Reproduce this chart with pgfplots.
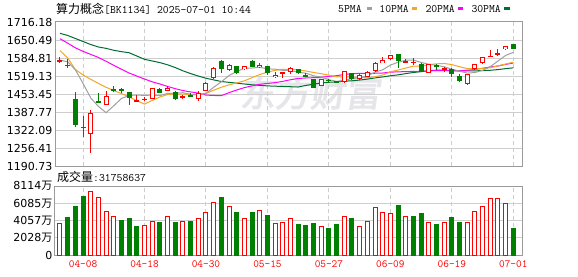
\documentclass[border=0pt]{standalone}
\usepackage{fontspec}
\setmainfont{DejaVu Sans}
\newfontfamily\cjk{Noto Sans CJK SC}
\newfontfamily\wmfont[FakeBold=3,FakeSlant=0.15]{Noto Sans CJK SC}
\usepackage{pgfplots}
\usepackage{pgfplotstable}
\pgfplotsset{compat=1.18}

\definecolor{upred}{RGB}{255,0,0}
\definecolor{dngreen}{RGB}{0,128,0}
\definecolor{mafive}{RGB}{160,160,160}
\definecolor{maten}{RGB}{245,166,35}
\definecolor{matwenty}{RGB}{255,0,255}
\definecolor{mathirty}{RGB}{0,110,50}
\definecolor{gridc}{RGB}{206,206,206}
\definecolor{framec}{RGB}{155,155,155}
\definecolor{wmgray}{RGB}{230,230,234}

\pgfplotstableread{
i o h l c
1 1573 1590 1568 1577
2 1556 1580 1547 1560
4 1330 1373 1298 1334
5 1306 1395 1240 1383
7 1412 1463 1412 1445
11 1426 1450 1424 1432
12 1433 1441 1429 1437
13 1436 1474 1434 1474
15 1466 1484 1465 1477
17 1442 1449 1437 1446
19 1436 1464 1429 1457
20 1465 1497 1463 1493
21 1512 1553 1510 1549
23 1540 1563 1538 1560
25 1544 1557 1540 1555
27 1551 1565 1550 1560
29 1514 1535 1512 1524
30 1528 1535 1511 1532
31 1533 1551 1525 1548
35 1481 1508 1481 1508
38 1496 1539 1495 1536
40 1508 1525 1505 1522
41 1516 1536 1514 1534
42 1538 1570 1535 1568
43 1566 1587 1565 1577
44 1582 1595 1577 1594
46 1569 1580 1565 1573
47 1567 1584 1560 1570
49 1531 1562 1529 1562
51 1544 1551 1535 1547
54 1489 1526 1488 1526
55 1543 1563 1541 1562
56 1566 1590 1564 1587
57 1589 1614 1588 1592
58 1598 1616 1593 1604
59 1616 1628 1615 1628
}\redc

\pgfplotstableread{
i o h l c
3 1435 1462 1332 1341
6 1426 1458 1423 1423
8 1470 1482 1462 1467
9 1472 1475 1458 1467
10 1461 1461 1414 1438
14 1472 1477 1456 1458
16 1461 1463 1431 1436
18 1450 1456 1443 1445
22 1575 1578 1531 1546
24 1556 1556 1525 1529
26 1575 1578 1551 1551
28 1556 1556 1523 1531
32 1544 1544 1525 1529
33 1522 1531 1514 1514
34 1509 1509 1477 1477
36 1506 1508 1494 1501
37 1500 1502 1494 1497
39 1529 1531 1504 1507
45 1599 1599 1550 1573
48 1564 1567 1533 1533
50 1558 1562 1541 1552
52 1545 1549 1517 1525
53 1519 1525 1496 1501
60 1636 1636 1619 1619
}\greenc

\pgfplotstableread{
i ma5 ma10 ma20 ma30
1 1577 1612 1655 1675
2 1571 1585 1639 1667
3 1542 1543 1622 1656
4 1492 1523 1609 1645
5 1439 1507 1598 1634
6 1408.2 1492 1587 1625
7 1385.2 1478 1573 1620
8 1410.4 1466 1558 1613
9 1437 1455 1544 1608
10 1448 1443.5 1530 1604
11 1449.8 1429 1519 1592
12 1448.2 1416.7 1508 1580
13 1449.6 1430 1498 1574
14 1447.8 1442.4 1490 1568
15 1455.6 1451.8 1481 1560
16 1456.4 1453.1 1473 1550
17 1458.2 1453.2 1466 1538
18 1452.4 1451 1461 1528
19 1452.2 1450 1457 1519
20 1455.4 1455.5 1449.5 1511
21 1478 1467.2 1448.1 1505
22 1498 1478.1 1447.4 1499
23 1521 1486.7 1458.4 1496
24 1535.4 1493.8 1468.1 1493
25 1547.8 1501.6 1476.7 1490
26 1548.2 1513.1 1483.1 1487
27 1551 1524.5 1488.9 1485
28 1545.2 1533.1 1492.1 1483
29 1544.2 1539.8 1494.9 1482
30 1539.6 1543.7 1499.6 1480.9
31 1539 1543.6 1505.4 1480
32 1532.8 1541.9 1510 1478.9
33 1529.4 1537.3 1512 1484.7
34 1520 1532.1 1513 1489.4
35 1515.2 1527.4 1514.5 1493.6
36 1505.8 1522.4 1517.8 1496.2
37 1499.4 1516.1 1520.3 1497.9
38 1503.8 1516.6 1524.9 1500.2
39 1509.8 1514.9 1527.4 1501.6
40 1512.6 1513.9 1528.8 1504.4
41 1519.2 1512.5 1528.1 1507.8
42 1533.4 1516.4 1529.2 1512.1
43 1541.6 1522.7 1530 1515.6
44 1559 1534.4 1533.3 1520.1
45 1569.2 1540.9 1534.2 1523.3
46 1577 1548.1 1535.3 1527.9
47 1577.4 1555.4 1535.8 1532
48 1568.6 1555.1 1535.9 1534.9
49 1562.2 1560.6 1537.8 1538.4
50 1558 1563.6 1538.8 1540.4
51 1552.8 1564.9 1538.7 1540.3
52 1543.8 1560.6 1538.5 1539.6
53 1537 1553 1537.9 1537.7
54 1529.8 1546.2 1540.3 1537.6
55 1531.8 1545.1 1543 1537.8
56 1539.8 1546.5 1547.3 1539
57 1553.2 1549.2 1552 1540
58 1573.8 1556.3 1555.5 1542.5
59 1594.2 1562.8 1561.5 1546
60 1605.6 1569.5 1566.4 1548.9
}\matab

\pgfplotstableread{
i v
1 3705
5 7488
6 6747
7 5148
8 4524
12 3510
13 3939
15 4524
17 3939
19 4290
20 4992
21 6162
23 5694
25 4290
27 5226
29 3705
30 3861
31 4290
35 3393
38 4524
40 3393
41 3939
42 5577
43 4992
44 4875
46 4524
49 3861
51 3861
54 3861
55 5109
56 5733
57 6630
58 6630
59 6045
}\volred

\pgfplotstableread{
i v
2 4446
3 5733
4 6903
9 4095
10 4329
11 3393
14 3861
16 3861
18 3978
22 6786
24 5031
26 5031
28 4680
32 3627
33 3510
34 3744
36 3159
37 3627
39 4329
45 5850
47 4563
48 4914
50 3627
52 4446
53 3783
60 3159
}\volgreen

\pgfplotsset{
  panel/.style={
    scale only axis, anchor=south west, width=467pt,
    xmin=0.35, xmax=61.13,
    axis line style={framec, line width=1pt},
    major tick length=0pt,
    xtick={4,12,20,28,36,44,52,60},
    xmajorgrids, ymajorgrids,
    x grid style={gridc, line width=1pt, dash pattern=on 4pt off 3pt},
    y grid style={gridc, line width=1pt},
    yticklabel style={font=\fontsize{11}{11}\selectfont, inner sep=0pt, xshift=-2.5pt},
    scaled y ticks=false,
  },
  wick/.style={only marks, mark=*, mark size=0pt, mark options={draw=none, fill=none}, forget plot,
    error bars/.cd, y dir=both, y explicit, error mark=none,
    error bar style={line width=1pt, draw=#1}},
  body/.style 2 args={only marks, mark=*, mark size=0pt, mark options={draw=none, fill=none}, forget plot,
    error bars/.cd, y dir=both, y explicit, error mark=none,
    error bar style={line width=#2, draw=#1}},
}

\begin{document}
\begin{tikzpicture}[x=1pt,y=1pt]
\useasboundingbox (0,0) rectangle (578,276);
\fill[white] (0,0) rectangle (578,276);
\node[text=wmgray, font=\wmfont\fontsize{35}{35}\selectfont, inner sep=0pt] at (310,183) {东方财富};

\begin{axis}[panel, at={(55pt,110pt)}, height=144pt,
  ymin=1190.73, ymax=1716.18,
  ytick={1190.73,1256.41,1322.09,1387.77,1453.45,1519.13,1584.81,1650.49,1716.18},
  yticklabels={1190.73,1256.41,1322.09,1387.77,1453.45,1519.13,1584.81,1650.49,1716.18},
  xticklabels={},
]
\addplot[mathirty, line width=1pt, no markers] table[x=i, y=ma30] {\matab};
\addplot[matwenty, line width=1pt, no markers] table[x=i, y=ma20] {\matab};
\addplot[maten, line width=1pt, no markers] table[x=i, y=ma10] {\matab};
\addplot[mafive, line width=1pt, no markers] table[x=i, y=ma5] {\matab};

% red candles
\addplot[wick=upred] table[x=i, y expr={(\thisrow{h}+\thisrow{l})/2}, y error expr={(\thisrow{h}-\thisrow{l})/2}] {\redc};
\addplot[body={upred}{5pt}] table[x=i, y expr={(\thisrow{o}+\thisrow{c})/2}, y error expr={max(abs(\thisrow{c}-\thisrow{o})/2,1.8)}] {\redc};
\addplot[body={white}{3pt}] table[x=i, y expr={(\thisrow{o}+\thisrow{c})/2}, y error expr={max(abs(\thisrow{c}-\thisrow{o})/2-3.65,0)}] {\redc};
% green candles
\addplot[wick=dngreen] table[x=i, y expr={(\thisrow{h}+\thisrow{l})/2}, y error expr={(\thisrow{h}-\thisrow{l})/2}] {\greenc};
\addplot[body={dngreen}{5pt}] table[x=i, y expr={(\thisrow{o}+\thisrow{c})/2}, y error expr={max(abs(\thisrow{c}-\thisrow{o})/2,1.8)}] {\greenc};
\end{axis}

\begin{axis}[panel, at={(55pt,21pt)}, height=69pt,
  ymin=0, ymax=8114,
  ytick={0,2028,4057,6085,8114},
  yticklabels={0,{2028{\cjk 万}},{4057{\cjk 万}},{6085{\cjk 万}},{8114{\cjk 万}}},
  xticklabels={04-08,04-18,04-30,05-15,05-27,06-09,06-19,07-01},
  xticklabel style={font=\ttfamily\fontsize{11}{11}\selectfont, text=upred, inner sep=0pt, yshift=-5pt},
]
\addplot[ybar, bar width=4pt, bar shift=0pt, draw=upred, fill=white, line width=1pt] table[x=i, y=v] {\volred};
\addplot[ybar, bar width=4pt, bar shift=0pt, draw=dngreen, fill=dngreen, line width=1pt] table[x=i, y=v] {\volgreen};
\end{axis}

% title and legend
\node[anchor=west, inner sep=0pt] at (56,267) {{\cjk\fontsize{12}{12}\selectfont 算力概念}{\ttfamily\fontsize{11.4}{12}\selectfont[BK1134] 2025-07-01 10:44}};
\node[anchor=west, inner sep=0pt, font=\ttfamily\fontsize{11.4}{12}\selectfont] at (338,267) {5PMA};
\fill[mafive] (366.5,265.8) rectangle (372,269);
\node[anchor=west, inner sep=0pt, font=\ttfamily\fontsize{11.4}{12}\selectfont] at (379.2,267) {10PMA};
\fill[maten] (411.6,265.8) rectangle (416.8,269);
\node[anchor=west, inner sep=0pt, font=\ttfamily\fontsize{11.4}{12}\selectfont] at (425.3,267) {20PMA};
\fill[matwenty] (457.7,265.8) rectangle (463.2,269);
\node[anchor=west, inner sep=0pt, font=\ttfamily\fontsize{11.4}{12}\selectfont] at (471.3,267) {30PMA};
\fill[mathirty] (504,265.8) rectangle (509.6,269);

\node[anchor=west, inner sep=0pt] at (57,99) {{\cjk\fontsize{12}{12}\selectfont 成交量}{\ttfamily\fontsize{11.4}{12}\selectfont:31758637}};
\end{tikzpicture}
\end{document}
